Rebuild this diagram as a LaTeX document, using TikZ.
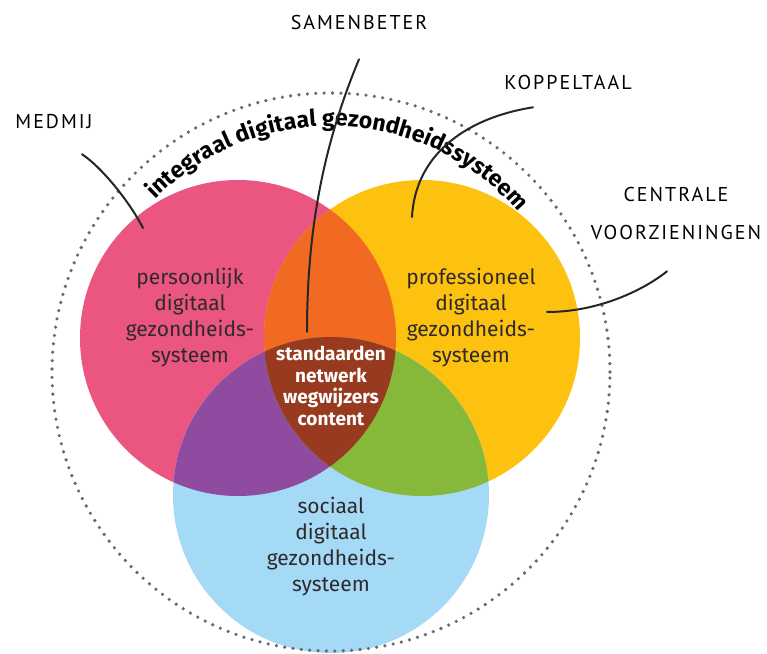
\documentclass[tikz,border=0pt]{standalone}
\usepackage{fontspec}
\setmainfont{Fira Sans}
\newfontfamily\handfont[LetterSpace=10]{PT Sans}
\usetikzlibrary{decorations.text}

\definecolor{pinkc}{HTML}{EA5680}
\definecolor{yellowc}{HTML}{FDC20F}
\definecolor{bluec}{HTML}{A5DAF7}
\definecolor{orangec}{HTML}{F26A21}
\definecolor{purplec}{HTML}{8E4B9F}
\definecolor{greenc}{HTML}{86B83A}
\definecolor{corec}{HTML}{983A1F}
\definecolor{textc}{HTML}{2E2A2B}
\definecolor{dotc}{HTML}{6A6A6A}
\newcommand{\rad}{158}

\begin{document}
\begin{tikzpicture}[x=0.5pt, y=0.5pt,
  region/.style={align=center, text=textc, font=\fontsize{10.5}{13}\selectfont},
  core/.style={align=center, text=white, font=\bfseries\fontsize{9.5}{10.7}\selectfont},
  hand/.style={align=center, text=black, font=\handfont\fontsize{10}{19}\selectfont},
  pointer/.style={line width=1pt, black!85, line cap=round}]
\useasboundingbox (0,0) rectangle (767,654);

\coordinate (P) at (238,316);
\coordinate (Y) at (422,316);
\coordinate (B) at (331,159);
\coordinate (O) at (331,282);

% the three systems
\fill[pinkc] (P) circle[radius=\rad];
\fill[yellowc] (Y) circle[radius=\rad];
\fill[bluec] (B) circle[radius=\rad];
\begin{scope}
  \clip (P) circle[radius=\rad];
  \fill[orangec] (Y) circle[radius=\rad];
  \fill[purplec] (B) circle[radius=\rad];
\end{scope}
\begin{scope}
  \clip (Y) circle[radius=\rad];
  \fill[greenc] (B) circle[radius=\rad];
\end{scope}
\begin{scope}
  \clip (P) circle[radius=\rad];
  \clip (Y) circle[radius=\rad];
  \fill[corec] (B) circle[radius=\rad];
\end{scope}

% integraal systeem
\draw[dotc, line width=1.8pt, line cap=round, dash pattern=on 0pt off 4.2pt] (O) circle[radius=279];
\path[decorate, decoration={text along path, text align=center,
    text={|\bfseries\fontsize{11.5}{11.5}\selectfont|integraal digitaal gezondheidssysteem}}]
  ([shift={(147:246)}]O) arc[start angle=147, end angle=29, radius=246];

\node[region] (pers) at (190,336) {persoonlijk\\digitaal\\gezondheids-\\systeem};
\node[region] (prof) at (471,336) {professioneel\\digitaal\\gezondheids-\\systeem};
\node[region] (soc) at (331,107) {sociaal\\digitaal\\gezondheids-\\systeem};
\node[core] (kern) at (331,268) {standaarden\\netwerk\\wegwijzers\\content};

\node[hand] (samenbeter) at (359,631) {SAMENBETER};
\node[hand] (koppeltaal) at (568,571) {KOPPELTAAL};
\node[hand] (medmij) at (54,532) {MEDMIJ};
\node[hand] (centrale) at (676,440) {CENTRALE\\VOORZIENINGEN};

\coordinate (sbEnd) at (307,322);
\coordinate (kpEnd) at (412,437);
\coordinate (mmEnd) at (143,426);
\coordinate (cvEnd) at (547,342);

\draw[pointer] ([shift={(0,-22)}]samenbeter.south) .. controls (322,506) and (307,420) .. (sbEnd);
\draw[pointer] ([shift={(-35,-10)}]koppeltaal.south) .. controls (460,535) and (415,495) .. (kpEnd);
\draw[pointer] ([shift={(28,-18)}]medmij.south) .. controls (100,488) and (128,455) .. (mmEnd);
\draw[pointer] ([shift={(-9,-24)}]centrale.south) .. controls (645,365) and (600,342) .. (cvEnd);
\end{tikzpicture}
\end{document}
